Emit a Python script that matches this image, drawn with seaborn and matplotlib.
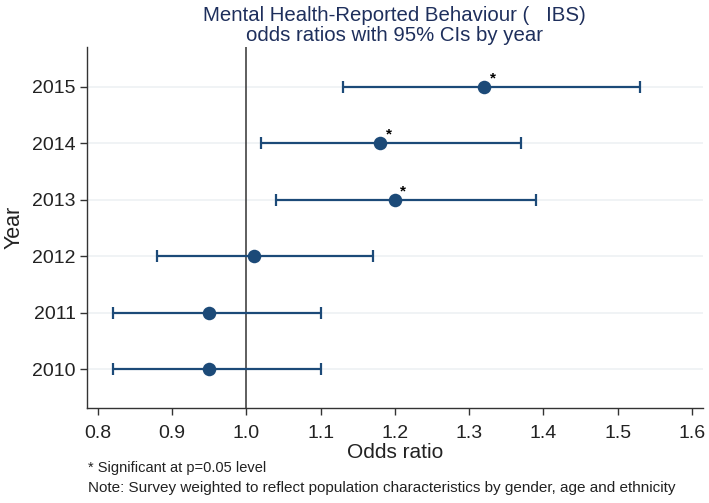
import matplotlib.pyplot as plt
import pandas as pd
import seaborn as sns

# odds ratios
years = [2010, 2011, 2012, 2013, 2014, 2015]
odds_ratio = [0.95, 0.95, 1.01, 1.20, 1.18, 1.32]
ci_low = [0.82, 0.82, 0.88, 1.04, 1.02, 1.13]
ci_high = [1.10, 1.10, 1.17, 1.39, 1.37, 1.53]
significant = [False, False, False, True, True, True]

df = pd.DataFrame({"year": years, "or": odds_ratio, "lo": ci_low, "hi": ci_high, "sig": significant})

sns.set_style("white")
plt.rcParams["font.family"] = ["Liberation Sans", "DejaVu Sans"]

navy = "#1c4a78"
fig = plt.figure(figsize=(7.09, 5.03), dpi=100)
ax = fig.add_axes([0.1223, 0.1889, 0.8692, 0.7177])

# light grid at each year
for y in df["year"]:
    ax.axhline(y, color="#edf1f3", lw=1.2, zorder=0)
ax.axvline(1.0, color="#333333", lw=1.1, zorder=1)

ax.errorbar(df["or"], df["year"], xerr=[df["or"] - df["lo"], df["hi"] - df["or"]],
            fmt="none", ecolor=navy, elinewidth=1.6, capsize=4.5, capthick=1.6, zorder=2)
sns.scatterplot(data=df, x="or", y="year", color=navy, s=95, edgecolor=navy,
                linewidth=0, ax=ax, zorder=3)

for _, r in df[df["sig"]].iterrows():
    ax.annotate("*", (r["or"], r["year"]), xytext=(4, 3), textcoords="offset points",
                fontsize=11, fontweight="bold", color="black")

ax.set_xlim(0.785, 1.615)
ax.set_ylim(2009.315, 2015.70)
ax.set_xticks([0.8, 0.9, 1.0, 1.1, 1.2, 1.3, 1.4, 1.5, 1.6])
ax.set_xticklabels(["0.8", "0.9", "1.0", "1.1", "1.2", "1.3", "1.4", "1.5", "1.6"])
ax.set_yticks(years)
ax.set_yticklabels([str(y) for y in years])
ax.tick_params(axis="both", which="both", direction="out", length=5, width=1,
               color="#333333", labelsize=14, labelcolor="#222222", left=True, bottom=True)
ax.tick_params(axis="x", pad=7)
ax.tick_params(axis="y", pad=3)

for s in ["top", "right"]:
    ax.spines[s].set_visible(False)
for s in ["left", "bottom"]:
    ax.spines[s].set_color("#333333")
    ax.spines[s].set_linewidth(1)

ax.set_xlabel("Odds ratio", fontsize=15, color="#222222", labelpad=1)
ax.set_ylabel("Year", fontsize=15.5, color="#222222", labelpad=5)
ax.set_title("Mental Health-Reported Behaviour (   IBS)\nodds ratios with 95% CIs by year",
             fontsize=14.7, color="#1e2f5c", pad=4, linespacing=1.08)

fig.text(0.124, 0.061, "* Significant at p=0.05 level", fontsize=10.5, color="#222222")
fig.text(0.124, 0.022,
         "Note: Survey weighted to reflect population characteristics by gender, age and ethnicity",
         fontsize=11, color="#222222")

fig.savefig("out.png", dpi=100)
